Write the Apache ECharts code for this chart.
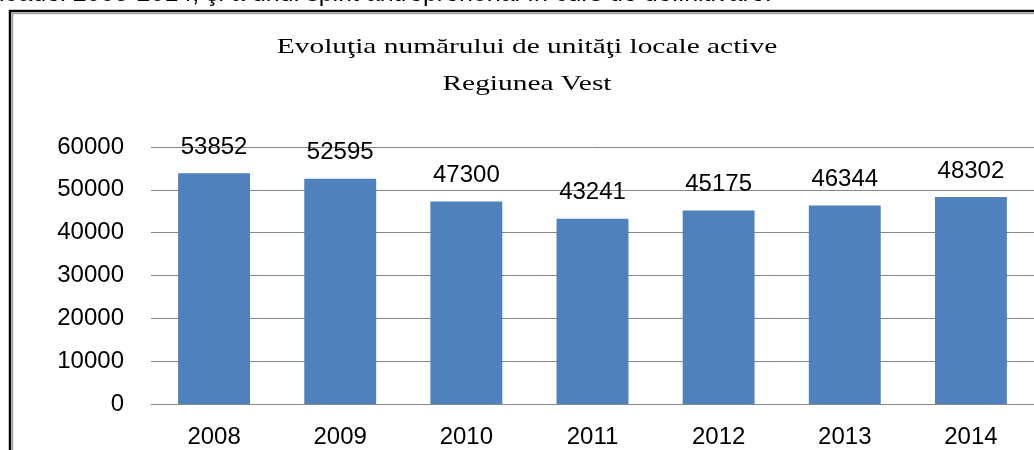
<!DOCTYPE html>
<html>
<head>
<meta charset="utf-8">
<script src="https://cdn.jsdelivr.net/npm/echarts@6/dist/echarts.min.js"></script>
<style>
html,body{margin:0;padding:0;background:#fff;}
#chart{width:1034px;height:450px;}
</style>
</head>
<body>
<div id="chart"></div>
<script>
const categories = ['2008','2009','2010','2011','2012','2013','2014'];
const values = [53852, 52595, 47300, 43241, 45175, 46344, 48302];
const yTicks = [0, 10000, 20000, 30000, 40000, 50000, 60000];
const titleLines = ['Evoluţia numărului de unităţi locale active', 'Regiunea Vest'];
const topText = 'ioadei 2008-2014, şi a unui spirit antreprenorial în curs de definitivare.';

const chart = echarts.init(document.getElementById('chart'));
chart.setOption({
  animation: false,
  backgroundColor: '#ffffff',
  graphic: [
    {
      type: 'text', x: -1, y: 7,
      style: { text: topText, font: '25px "Liberation Sans"', fill: '#000', textBaseline: 'alphabetic', verticalAlign: 'bottom' }
    },
    {
      type: 'rect', shape: { x: 10, y: 11, width: 1100, height: 500 },
      style: { fill: 'none', stroke: '#000', lineWidth: 2.5 }
    },
    {
      type: 'rect', shape: { x: 12.5, y: 13.5, width: 1100, height: 500 },
      style: { fill: 'none', stroke: '#a0a0a0', lineWidth: 1.5 }
    },
    {
      type: 'text', x: 527, y: 47, scaleX: 1.4,
      style: { text: titleLines[0], font: '21px "Liberation Serif"', fill: '#000', align: 'center', verticalAlign: 'middle' }
    },
    {
      type: 'text', x: 527, y: 84, scaleX: 1.4,
      style: { text: titleLines[1], font: '21px "Liberation Serif"', fill: '#000', align: 'center', verticalAlign: 'middle' }
    }
  ],
  grid: { left: 151, right: -11, top: 147, bottom: 46 },
  xAxis: {
    type: 'category',
    data: categories,
    axisLine: { lineStyle: { color: '#868686', width: 1 } },
    axisTick: { show: false },
    axisLabel: { fontFamily: 'Liberation Sans', fontSize: 24, color: '#000', margin: 21 }
  },
  yAxis: {
    type: 'value',
    min: yTicks[0],
    max: yTicks[yTicks.length - 1],
    interval: yTicks[1] - yTicks[0],
    axisLine: { show: false },
    axisTick: { show: false },
    splitLine: { lineStyle: { color: '#868686', width: 1 } },
    axisLabel: { fontFamily: 'Liberation Sans', fontSize: 24, color: '#000', margin: 27, formatter: v => String(v) }
  },
  series: [{
    type: 'bar',
    data: values,
    barWidth: '57%',
    itemStyle: { color: '#4F81BD' },
    label: {
      show: true,
      position: 'top',
      distance: 14,
      fontFamily: 'Liberation Sans',
      fontSize: 24,
      color: '#000'
    }
  }]
});
</script>
</body>
</html>
